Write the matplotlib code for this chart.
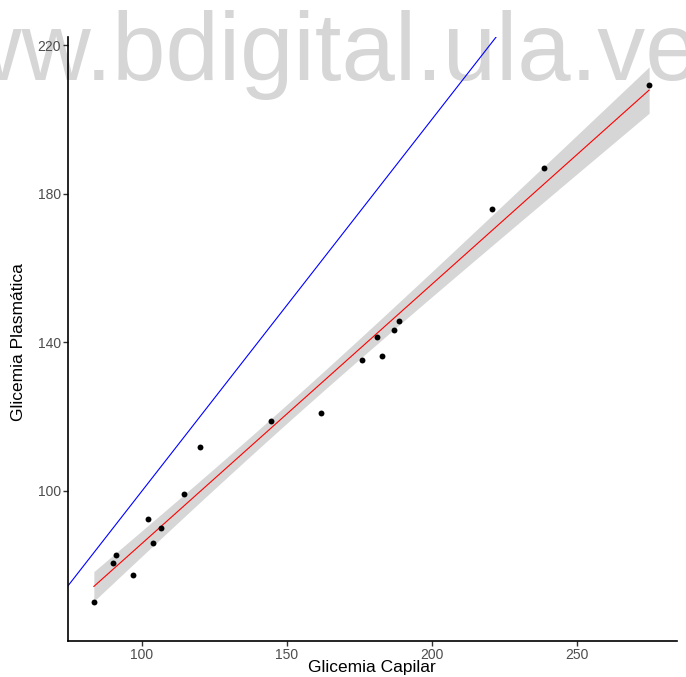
import numpy as np
import matplotlib
matplotlib.use("Agg")
import matplotlib.pyplot as plt

plt.rcParams["font.family"] = ["Liberation Sans", "DejaVu Sans"]

# glicemia capilar (x) vs plasmatica (y)
capilar = [83.4, 89.9, 91.0, 96.8, 102.0, 103.7, 106.5, 114.4, 120.0, 144.5,
           161.8, 175.9, 181.1, 182.8, 186.9, 188.7, 220.8, 238.8, 275.0]
plasmatica = [70.1, 80.6, 82.8, 77.4, 92.5, 86.0, 90.0, 99.2, 111.8, 118.8,
              121.0, 135.2, 141.4, 136.3, 143.3, 145.7, 175.9, 186.9, 209.2]
xticks = [100, 150, 200, 250]
yticks = [100, 140, 180, 220]
watermark = "www.bdigital.ula.ve"

x = np.array(capilar)
y = np.array(plasmatica)

# lm fit + 95% confidence band like geom_smooth(method="lm")
n = len(x)
b1, b0 = np.polyfit(x, y, 1)
resid = y - (b0 + b1 * x)
s = np.sqrt(np.sum(resid ** 2) / (n - 2))
t_crit = 2.1098  # t(0.975, df=17)
xs = np.linspace(x.min(), x.max(), 80)
ys = b0 + b1 * xs
se = s * np.sqrt(1 / n + (xs - x.mean()) ** 2 / np.sum((x - x.mean()) ** 2))

fig = plt.figure(figsize=(6.86, 6.77), dpi=100)
ax = fig.add_axes([0.0988, 0.0536, 0.888, 0.8917])

ax.text(291 / 686, 1 - 80 / 677, watermark, transform=fig.transFigure,
        ha="center", va="baseline", fontsize=69, color="#d6d6d6",
        zorder=0.1, clip_on=False)

ax.axline((100, 100), slope=1, color="blue", lw=0.8, zorder=2)
ax.fill_between(xs, ys - t_crit * se, ys + t_crit * se, color="#d6d6d6",
                lw=0, zorder=1)
ax.plot(xs, ys, color="red", lw=0.8, zorder=3)
ax.scatter(x, y, s=18, color="black", zorder=4, lw=0)

ax.set_xlim(74.4, 284.6)
ax.set_ylim(59.7, 222.2)
ax.set_xticks(xticks)
ax.set_yticks(yticks)
ax.tick_params(length=3.5, width=1, color="#333333", labelcolor="#4d4d4d",
               labelsize=10, pad=1.5)
for side in ["top", "right"]:
    ax.spines[side].set_visible(False)
for side in ["left", "bottom"]:
    ax.spines[side].set_linewidth(1.2)
ax.set_xlabel("Glicemia Capilar", fontsize=12.5, va="baseline")
ax.set_ylabel("Glicemia Plasmática", fontsize=12.5, va="center")
ax.xaxis.set_label_coords(0.5, -0.052)
ax.yaxis.set_label_coords(-0.081, 0.494)
ax.set_facecolor("none")

fig.savefig("out.png", dpi=100)
